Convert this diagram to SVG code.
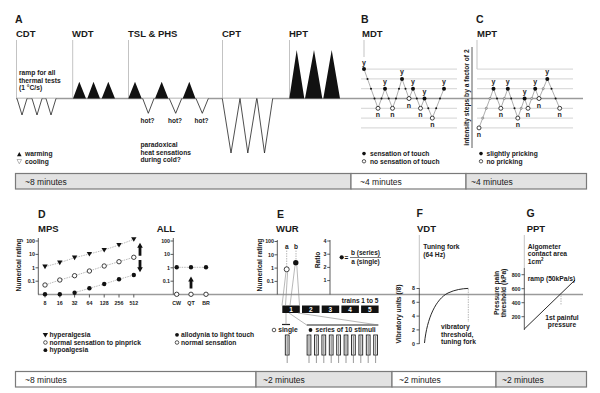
<svg xmlns="http://www.w3.org/2000/svg" width="600" height="393" viewBox="0 0 600 393">
<style>
text{font-family:"Liberation Sans",Arial,sans-serif;fill:#1a1a1a}
.L{font-size:10.5px;font-weight:bold}
.T{font-size:9.5px;font-weight:bold}
.s{font-size:6.7px;font-weight:bold}
.h{font-size:6.5px;font-weight:bold}
.k{font-size:5.3px;font-weight:bold}
.m{font-size:8.5px}
.yn{font-size:7px;font-weight:bold;text-anchor:middle}
.e{text-anchor:end}
.c{text-anchor:middle}
.vl{stroke:#b4b4b4;stroke-width:0.8;fill:none}
.base{stroke:#9a9a9a;stroke-width:1.6}
.grid{stroke:#c8c8c8;stroke-width:0.8}
.path{stroke:#777;stroke-width:0.6;fill:none}
.dash{stroke:#888;stroke-width:0.6;stroke-dasharray:1.5 1;fill:none}
.ax{stroke:#333;stroke-width:0.8;fill:none}
.bk{fill:#111}
.wv{fill:#fff;stroke:#222;stroke-width:0.8}
.bar{fill:#e2e2e2;stroke:#7a7a7a;stroke-width:1.2}
.barw{fill:#fff;stroke:#7a7a7a;stroke-width:1.2}
.thin{stroke:#888;stroke-width:0.6;fill:none}
.bx{fill:#111}
.bn{font-size:6.5px;font-weight:bold;fill:#fff;text-anchor:middle}
</style>
<defs>
<path id="tri" d="M-2.7,-2.1 L2.7,-2.1 L0,2.5Z" fill="#111"/>
<circle id="cb" r="2.2" fill="#111"/>
<circle id="cw" r="2.2" fill="#fff" stroke="#111" stroke-width="0.8"/>
<circle id="bigB" r="2" fill="#111"/>
<circle id="bigW" r="2" fill="#fff" stroke="#111" stroke-width="0.8"/>
<circle id="sb" r="1" fill="#111"/>
<circle id="sg" r="1.1" fill="#c8c8c8" stroke="#666" stroke-width="0.5"/>
<g id="pin"><rect x="-1.9" y="0" width="3.8" height="20" fill="#eee" stroke="#222" stroke-width="0.9"/><line x1="0" y1="1" x2="0" y2="19" stroke="#555" stroke-width="0.7"/><line x1="0" y1="20" x2="0" y2="28" stroke="#555" stroke-width="0.6"/></g>
</defs>
<rect width="600" height="393" fill="#fff"/>

<g id="baselines">
<line class="base" x1="16" y1="98.5" x2="583" y2="98.5"/>
<line class="base" x1="38" y1="294.5" x2="583" y2="294.5"/>
</g>

<g id="panelA"><text class="L" x="15" y="23">A</text></g>
<g id="CDT">
<text class="T" x="16" y="37">CDT</text>
<line class="vl" x1="16.5" y1="40" x2="16.5" y2="98"/>
<text class="s" x="19" y="75">ramp for all</text>
<text class="s" x="19" y="82.7">thermal tests</text>
<text class="s" x="19" y="90.4">(1 °C/s)</text>
<path class="wv" d="M17,98.5 L22,115 L27,98.5 M32,98.5 L37,115 L42,98.5 M46,98.5 L51,115 L56,98.5"/>
<path class="bk" d="M17,156.3 L19.3,152 L21.6,156.3Z"/>
<text class="s" x="25" y="155.8">warming</text>
<path d="M17,159.5 L21.6,159.5 L19.3,163.8Z" fill="#fff" stroke="#888" stroke-width="0.6"/>
<text class="s" x="25" y="163.5">cooling</text>
</g>
<g id="WDT">
<text class="T" x="72" y="37">WDT</text>
<line class="vl" x1="72.7" y1="40" x2="72.7" y2="98"/>
<path class="bk" d="M73,98.5 L79.3,81.7 L86,98.5Z M87.3,98.5 L93.5,81.7 L100,98.5Z M101.7,98.5 L108.3,81.7 L115,98.5Z"/>
</g>
<g id="TSL">
<text class="T" x="128" y="37">TSL &amp; PHS</text>
<line class="vl" x1="128.5" y1="40" x2="128.5" y2="98"/>
<path class="bk" d="M128.3,98.5 L135,81.7 L141.7,98.5Z M155,98.5 L161.7,81.7 L168.3,98.5Z M182.7,98.5 L189.3,81.7 L195.5,98.5Z"/>
<path class="wv" d="M142.7,98.5 L148.3,113.3 L154,98.5 M169.3,98.5 L175.7,113.3 L181.7,98.5 M196,98.5 L202.3,113.3 L208.3,98.5"/>
<text class="h c" x="147.5" y="123">hot?</text>
<text class="h c" x="175" y="123">hot?</text>
<text class="h c" x="201.5" y="123">hot?</text>
<text class="s" x="140.4" y="146.8">paradoxical</text>
<text class="s" x="140.4" y="154.6">heat sensations</text>
<text class="s" x="140.4" y="162.4">during cold?</text>
</g>
<g id="CPT">
<text class="T" x="222" y="37">CPT</text>
<line class="vl" x1="222.5" y1="40" x2="222.5" y2="98"/>
<path class="wv" d="M222.3,98.5 L231,153 L240,98.5 M240,98.5 L247.8,153 L256.7,98.5 M257,98.5 L264.5,153 L272.7,98.5"/>
</g>
<g id="HPT">
<text class="T" x="289" y="37">HPT</text>
<line class="vl" x1="289.5" y1="40" x2="289.5" y2="98"/>
<path class="bk" d="M289.3,98.5 L296.7,50 L304.3,98.5Z M305,98.5 L314,50 L322.3,98.5Z M323.3,98.5 L331.7,50 L340,98.5Z"/>
</g>

<g id="panelB"><text class="L" x="361" y="23">B</text></g>
<g id="MDT">
<text class="T" x="362" y="37">MDT</text>
<line class="vl" x1="364" y1="40" x2="364" y2="57"/>
<g class="grid">
<line x1="364" y1="69.1" x2="457" y2="69.1"/>
<line x1="361" y1="78.9" x2="457" y2="78.9"/>
<line x1="361" y1="88.7" x2="457" y2="88.7"/>
<line x1="361" y1="108.3" x2="457" y2="108.3"/>
<line x1="361" y1="118.1" x2="457" y2="118.1"/>
<line x1="361" y1="127.9" x2="457" y2="127.9"/>
</g>
<polyline class="path" points="364,69.1 367.5,78.9 371,88.7 374.5,98.5 378,108.3 381.5,98.5 385,88.7 388.7,98.5 392.5,108.3 396,98.5 399,88.7 402,78.9 405.5,88.7 409,98.5 413,88.7 416.8,98.5 420.5,108.3 424.5,98.5 428.3,108.3 432.3,118.1 436.2,108.3 440,98.5 444,88.7"/>
<use href="#sb" x="367.5" y="78.9"/><use href="#sb" x="371" y="88.7"/><use href="#sb" x="374.5" y="98.5"/>
<use href="#sb" x="381.5" y="98.5"/><use href="#sb" x="388.7" y="98.5"/><use href="#sb" x="396" y="98.5"/>
<use href="#sb" x="399" y="88.7"/><use href="#sb" x="405.5" y="88.7"/><use href="#sb" x="416.8" y="98.5"/>
<use href="#sb" x="428.3" y="108.3"/><use href="#sb" x="436.2" y="108.3"/><use href="#sb" x="440" y="98.5"/>
<use href="#bigB" x="364" y="69.1"/><text class="yn" x="364" y="64.6">y</text>
<use href="#bigB" x="385" y="88.7"/><text class="yn" x="385" y="84.2">y</text>
<use href="#bigB" x="402" y="78.9"/><text class="yn" x="402" y="74.4">y</text>
<use href="#bigB" x="413" y="88.7"/><text class="yn" x="413" y="84.2">y</text>
<use href="#bigB" x="424.5" y="98.5"/><text class="yn" x="424.5" y="94">y</text>
<use href="#bigB" x="444" y="88.7"/><text class="yn" x="444" y="84.2">y</text>
<use href="#bigW" x="378" y="108.3"/><text class="yn" x="378" y="117.3">n</text>
<use href="#bigW" x="392.5" y="108.3"/><text class="yn" x="392.5" y="117.3">n</text>
<use href="#bigW" x="409" y="98.5"/><text class="yn" x="409" y="107.5">n</text>
<use href="#bigW" x="420.5" y="108.3"/><text class="yn" x="420.5" y="117.3">n</text>
<use href="#bigW" x="432.3" y="118.1"/><text class="yn" x="432.3" y="127.1">n</text>
<circle cx="364" cy="153.6" r="1.8" fill="#111"/>
<text class="s" x="370" y="155.8">sensation of touch</text>
<circle cx="364" cy="161.3" r="1.7" fill="#fff" stroke="#111" stroke-width="0.7"/>
<text class="s" x="370" y="163.5">no sensation of touch</text>
</g>

<g id="intensityAxis">
<line class="ax" x1="472" y1="47" x2="472" y2="148" stroke="#777"/>
<text class="s c" transform="translate(468.5,97.5) rotate(-90)">intensity steps by a factor of 2</text>
</g>

<g id="panelC"><text class="L" x="476" y="23">C</text></g>
<g id="MPT">
<text class="T" x="477" y="37">MPT</text>
<line class="vl" x1="477" y1="40" x2="477" y2="69.1"/>
<g class="grid">
<line x1="477" y1="69.1" x2="573" y2="69.1"/>
<line x1="477" y1="78.9" x2="573" y2="78.9"/>
<line x1="477" y1="88.7" x2="573" y2="88.7"/>
<line x1="477" y1="108.3" x2="573" y2="108.3"/>
<line x1="477" y1="118.1" x2="573" y2="118.1"/>
<line x1="477" y1="127.9" x2="573" y2="127.9"/>
</g>
<polyline class="path" points="479,127.9 482.7,118.1 486.3,108.3 490,98.5 493.5,88.7 497,98.5 500.8,108.3 504.3,98.5 507.8,88.7 511.2,98.5 514.5,108.3 517.8,118.1 521.2,108.3 524.6,98.5 528,108.3 531.7,98.5 535.2,88.7 539,98.5 543.2,88.7 547.3,78.9 551.5,88.7 555.6,98.5 559.7,108.3"/>
<use href="#sg" x="482.7" y="118.1"/><use href="#sg" x="486.3" y="108.3"/><use href="#sg" x="490" y="98.5"/>
<use href="#sb" x="497" y="98.5"/><use href="#sg" x="504.3" y="98.5"/><use href="#sb" x="511.2" y="98.5"/>
<use href="#sb" x="514.5" y="108.3"/><use href="#sg" x="521.2" y="108.3"/><use href="#sg" x="531.7" y="98.5"/>
<use href="#sg" x="543.2" y="88.7"/><use href="#sb" x="551.5" y="88.7"/><use href="#sb" x="555.6" y="98.5"/>
<use href="#bigB" x="493.5" y="88.7"/><text class="yn" x="493.5" y="84.2">y</text>
<use href="#bigB" x="507.8" y="88.7"/><text class="yn" x="507.8" y="84.2">y</text>
<use href="#bigB" x="524.6" y="98.5"/><text class="yn" x="524.6" y="94">y</text>
<use href="#bigB" x="535.2" y="88.7"/><text class="yn" x="535.2" y="84.2">y</text>
<use href="#bigB" x="547.3" y="78.9"/><text class="yn" x="547.3" y="74.4">y</text>
<use href="#bigW" x="479" y="127.9"/><text class="yn" x="479" y="136.5">n</text>
<use href="#bigW" x="500.8" y="108.3"/><text class="yn" x="500.8" y="117.3">n</text>
<use href="#bigW" x="517.8" y="118.1"/><text class="yn" x="517.8" y="127.1">n</text>
<use href="#bigW" x="528" y="108.3"/><text class="yn" x="528" y="117.3">n</text>
<use href="#bigW" x="539" y="98.5"/><text class="yn" x="539" y="107.5">n</text>
<use href="#bigW" x="559.7" y="108.3"/><text class="yn" x="559.7" y="117.3">n</text>
<circle cx="481" cy="153.6" r="1.8" fill="#111"/>
<text class="s" x="486.5" y="155.8">slightly pricking</text>
<circle cx="481" cy="161.3" r="1.7" fill="#fff" stroke="#111" stroke-width="0.7"/>
<text class="s" x="486.5" y="163.5">no pricking</text>
</g>

<g id="timebar1">
<rect class="bar" x="15.5" y="173.5" width="335.5" height="15.5"/>
<rect class="barw" x="351" y="173.5" width="115" height="15.5"/>
<rect class="bar" x="466" y="173.5" width="120.5" height="15.5"/>
<text class="m" x="25" y="185">~8 minutes</text>
<text class="m" x="360" y="185">~4 minutes</text>
<text class="m" x="471" y="185">~4 minutes</text>
</g>

<g id="panelD"><text class="L" x="38" y="218">D</text></g>
<g id="MPS">
<text class="T" x="38" y="232">MPS</text>
<line class="ax" x1="38.3" y1="238" x2="38.3" y2="294.5"/>
<g class="ax"><line x1="35.5" y1="241" x2="38.3" y2="241"/><line x1="35.5" y1="254.4" x2="38.3" y2="254.4"/><line x1="35.5" y1="267.8" x2="38.3" y2="267.8"/><line x1="35.5" y1="281.2" x2="38.3" y2="281.2"/></g>
<text class="k e" x="35" y="242.8">100</text><text class="k e" x="35" y="256.2">10</text><text class="k e" x="35" y="269.6">1</text><text class="k e" x="35" y="283">0.1</text>
<text class="s c" transform="translate(20.5,265) rotate(-90)">Numerical rating</text>
<g class="ax"><line x1="45" y1="294.5" x2="45" y2="297.5"/><line x1="59.8" y1="294.5" x2="59.8" y2="297.5"/><line x1="74.6" y1="294.5" x2="74.6" y2="297.5"/><line x1="89.4" y1="294.5" x2="89.4" y2="297.5"/><line x1="104.2" y1="294.5" x2="104.2" y2="297.5"/><line x1="119" y1="294.5" x2="119" y2="297.5"/><line x1="133.8" y1="294.5" x2="133.8" y2="297.5"/></g>
<text class="k c" x="45" y="304.5">8</text><text class="k c" x="59.8" y="304.5">16</text><text class="k c" x="74.6" y="304.5">32</text><text class="k c" x="89.4" y="304.5">64</text><text class="k c" x="104.2" y="304.5">128</text><text class="k c" x="119" y="304.5">256</text><text class="k c" x="133.8" y="304.5">512</text>
<polyline class="dash" points="45,266.7 59.8,262.7 74.6,257.7 89.4,254 104.2,250 119,245 133.8,239.3"/>
<polyline class="dash" points="45,285 59.8,280 74.6,275.7 89.4,271 104.2,266 119,261.7 133.8,257.3"/>
<polyline class="dash" points="74.6,292.7 89.4,288.3 104.2,284 119,279.3 133.8,275"/>
<use href="#tri" x="45" y="266.7"/><use href="#tri" x="59.8" y="262.7"/><use href="#tri" x="74.6" y="257.7"/><use href="#tri" x="89.4" y="254"/><use href="#tri" x="104.2" y="250"/><use href="#tri" x="119" y="245"/><use href="#tri" x="133.8" y="239.3"/>
<use href="#cw" x="45" y="285"/><use href="#cw" x="59.8" y="280"/><use href="#cw" x="74.6" y="275.7"/><use href="#cw" x="89.4" y="271"/><use href="#cw" x="104.2" y="266"/><use href="#cw" x="119" y="261.7"/><use href="#cw" x="133.8" y="257.3"/>
<use href="#cb" x="45" y="294.3"/><use href="#cb" x="59.8" y="294.3"/><use href="#cb" x="74.6" y="292.7"/><use href="#cb" x="89.4" y="288.3"/><use href="#cb" x="104.2" y="284"/><use href="#cb" x="119" y="279.3"/><use href="#cb" x="133.8" y="275"/>
<path class="bk" d="M140,242.7 L142.8,247.7 L141.4,247.7 L141.4,255.7 L138.6,255.7 L138.6,247.7 L137.2,247.7Z"/>
<path class="bk" d="M140,272.3 L142.8,267.3 L141.4,267.3 L141.4,260 L138.6,260 L138.6,267.3 L137.2,267.3Z"/>
<path class="bk" d="M42.7,333 L48,333 L45.35,337.4Z"/>
<text class="s" x="49.5" y="337">hyperalgesia</text>
<circle cx="45.4" cy="342.5" r="1.8" fill="#fff" stroke="#111" stroke-width="0.7"/>
<text class="s" x="49.5" y="344.7">normal sensation to pinprick</text>
<circle cx="45.4" cy="350.2" r="1.9" fill="#111"/>
<text class="s" x="49.5" y="352.4">hypoalgesia</text>
</g>
<g id="ALL">
<text class="T" x="156.7" y="232">ALL</text>
<line class="ax" x1="173.3" y1="238" x2="173.3" y2="294.5"/>
<g class="ax"><line x1="170.5" y1="241" x2="173.3" y2="241"/><line x1="170.5" y1="254.4" x2="173.3" y2="254.4"/><line x1="170.5" y1="267.8" x2="173.3" y2="267.8"/><line x1="170.5" y1="281.2" x2="173.3" y2="281.2"/></g>
<text class="k e" x="170" y="242.8">100</text><text class="k e" x="170" y="256.2">10</text><text class="k e" x="170" y="269.6">1</text><text class="k e" x="170" y="283">0.1</text>
<polyline class="dash" points="176.7,267.3 206,267.3"/>
<use href="#cb" x="176.7" y="267.3"/><use href="#cb" x="191" y="267.3"/><use href="#cb" x="206" y="267.3"/>
<use href="#cw" x="176.7" y="294.3"/><use href="#cw" x="191" y="294.3"/><use href="#cw" x="206" y="294.3"/>
<text class="k c" x="176.7" y="304.5">CW</text><text class="k c" x="191" y="304.5">QT</text><text class="k c" x="206" y="304.5">BR</text>
<path class="bk" d="M191,276.5 L193.8,281.5 L192.4,281.5 L192.4,288.5 L189.6,288.5 L189.6,281.5 L188.2,281.5Z"/>
<circle cx="177" cy="334.8" r="1.9" fill="#111"/>
<text class="s" x="181" y="337">allodynia to light touch</text>
<circle cx="177" cy="342.5" r="1.8" fill="#fff" stroke="#111" stroke-width="0.7"/>
<text class="s" x="181" y="344.7">normal sensation</text>
</g>

<g id="panelE"><text class="L" x="277" y="218">E</text></g>
<g id="WUR">
<text class="T" x="276" y="232.3">WUR</text>
<line class="ax" x1="277.3" y1="240" x2="277.3" y2="294.5"/>
<g class="ax"><line x1="274.5" y1="241.5" x2="277.3" y2="241.5"/><line x1="274.5" y1="254.8" x2="277.3" y2="254.8"/><line x1="274.5" y1="268.1" x2="277.3" y2="268.1"/><line x1="274.5" y1="281.4" x2="277.3" y2="281.4"/></g>
<text class="k e" x="274" y="243.3">100</text><text class="k e" x="274" y="256.6">10</text><text class="k e" x="274" y="269.9">1</text><text class="k e" x="274" y="283.2">0.1</text>
<text class="s c" transform="translate(262,265) rotate(-90)">Numerical rating</text>
<text class="h c" x="286.7" y="248.7">a</text>
<text class="h c" x="296" y="248.7">b</text>
<line class="dash" x1="286.7" y1="250.5" x2="286.7" y2="267"/>
<line class="dash" x1="296" y1="250.5" x2="296" y2="260.5"/>
<circle cx="286.7" cy="269.3" r="2.5" fill="#fff" stroke="#111" stroke-width="0.8"/>
<circle cx="295.8" cy="262.7" r="2.7" fill="#111"/>
</g>
<g id="Ratio">
<line class="ax" x1="330" y1="240" x2="330" y2="294.5"/>
<g class="ax"><line x1="327.2" y1="241" x2="330" y2="241"/><line x1="327.2" y1="254.2" x2="330" y2="254.2"/><line x1="327.2" y1="267.4" x2="330" y2="267.4"/><line x1="327.2" y1="280.6" x2="330" y2="280.6"/></g>
<text class="k e" x="326.5" y="242.8">4</text><text class="k e" x="326.5" y="256">3</text><text class="k e" x="326.5" y="269.2">2</text><text class="k e" x="326.5" y="282.4">1</text>
<text class="s c" transform="translate(320,260) rotate(-90)">Ratio</text>
<circle cx="341.7" cy="257.3" r="2.1" fill="#111"/>
<text class="h" x="344.5" y="259.5">=</text>
<text class="h c" x="365.5" y="255.3">b (series)</text>
<line x1="350" y1="257.5" x2="381" y2="257.5" stroke="#222" stroke-width="0.6"/>
<text class="h c" x="365.5" y="263.8">a (single)</text>
</g>
<g id="trains">
<text class="h e" x="378.3" y="303.3">trains 1 to 5</text>
<rect class="bx" x="282.3" y="305.5" width="17.5" height="7.5"/>
<rect class="bx" x="302" y="305.5" width="17.5" height="7.5"/>
<rect class="bx" x="321.7" y="305.5" width="17.5" height="7.5"/>
<rect class="bx" x="341.4" y="305.5" width="17.5" height="7.5"/>
<rect class="bx" x="361.1" y="305.5" width="17.5" height="7.5"/>
<text class="bn" x="291" y="311.6">1</text>
<text class="bn" x="310.7" y="311.6">2</text>
<text class="bn" x="330.4" y="311.6">3</text>
<text class="bn" x="350.1" y="311.6">4</text>
<text class="bn" x="369.8" y="311.6">5</text>
</g>
<g id="single">
<line x1="282" y1="324.5" x2="290" y2="324.5" stroke="#222" stroke-width="1.2"/>
<circle cx="274" cy="330" r="1.8" fill="#fff" stroke="#111" stroke-width="0.7"/>
<text class="s" x="278.3" y="332.3">single</text>
<use href="#pin" x="287.2" y="335"/>
</g>
<g id="series">
<line x1="306.7" y1="325" x2="378.3" y2="325" stroke="#222" stroke-width="1.2"/>
<circle cx="310.5" cy="330" r="1.9" fill="#111"/>
<text class="s" x="315.5" y="332.3">series of 10 stimuli</text>
<use href="#pin" x="309" y="335"/><use href="#pin" x="316.4" y="335"/><use href="#pin" x="323.8" y="335"/><use href="#pin" x="331.2" y="335"/><use href="#pin" x="338.6" y="335"/><use href="#pin" x="346" y="335"/><use href="#pin" x="353.4" y="335"/><use href="#pin" x="360.8" y="335"/><use href="#pin" x="368.2" y="335"/><use href="#pin" x="375.6" y="335"/>
</g>

<g id="connectors">
<line class="thin" x1="286" y1="271.8" x2="282" y2="305.5"/>
<line class="thin" x1="287.6" y1="271.8" x2="285.5" y2="305.5"/>
<line class="thin" x1="295" y1="265.4" x2="290" y2="305.5"/>
<line class="thin" x1="296.8" y1="265.4" x2="299.5" y2="305.5"/>
<line class="thin" x1="286" y1="313" x2="286" y2="324.5"/>
<line class="thin" x1="289" y1="313" x2="306.7" y2="325"/>
<line class="thin" x1="298" y1="313" x2="378.3" y2="325"/>
</g>

<g id="panelF"><text class="L" x="416.5" y="217">F</text></g>
<g id="VDT">
<text class="T" x="417" y="232">VDT</text>
<line class="vl" x1="419.3" y1="235" x2="419.3" y2="288"/>
<line class="ax" x1="419.3" y1="288" x2="419.3" y2="344"/>
<g class="ax"><line x1="416.5" y1="288.5" x2="419.3" y2="288.5"/><line x1="416.5" y1="302.3" x2="419.3" y2="302.3"/><line x1="416.5" y1="316.1" x2="419.3" y2="316.1"/><line x1="416.5" y1="329.9" x2="419.3" y2="329.9"/><line x1="416.5" y1="343.7" x2="419.3" y2="343.7"/></g>
<text class="k e" x="415" y="290.3">8</text><text class="k e" x="415" y="304.1">6</text><text class="k e" x="415" y="317.9">4</text><text class="k e" x="415" y="331.7">2</text><text class="k e" x="415" y="345.5">0</text>
<text class="s c" transform="translate(401,314) rotate(-90)">Vibratory units  (/8)</text>
<text class="s" x="423.3" y="248.5">Tuning fork</text>
<text class="s" x="423.3" y="256.5">(64 Hz)</text>
<path d="M424.5,343 C427,318 436,299 448,293 C455,289.7 462,288.6 468.3,288.4" fill="none" stroke="#111" stroke-width="0.9"/>
<line class="dash" x1="468.3" y1="289" x2="468.3" y2="322"/>
<text class="s" x="441" y="329">vibratory</text>
<text class="s" x="441" y="336.7">threshold,</text>
<text class="s" x="441" y="344.4">tuning fork</text>
</g>

<g id="panelG"><text class="L" x="526.5" y="217">G</text></g>
<g id="PPT">
<text class="T" x="526.7" y="232">PPT</text>
<line class="vl" x1="524.3" y1="235" x2="524.3" y2="268"/>
<line class="ax" x1="524.3" y1="268" x2="524.3" y2="330"/>
<g class="ax"><line x1="521.5" y1="274.7" x2="524.3" y2="274.7"/><line x1="521.5" y1="288.7" x2="524.3" y2="288.7"/><line x1="521.5" y1="302.7" x2="524.3" y2="302.7"/><line x1="521.5" y1="316.7" x2="524.3" y2="316.7"/></g>
<text class="k e" x="520.5" y="276.5">800</text><text class="k e" x="520.5" y="290.5">600</text><text class="k e" x="520.5" y="304.5">400</text><text class="k e" x="520.5" y="318.5">200</text>
<text class="s c" transform="translate(498.5,293) rotate(-90)">Pressure pain</text>
<text class="s c" transform="translate(506,293) rotate(-90)">threshold (kPa)</text>
<text class="s" x="527.7" y="248.5">Algometer</text>
<text class="s" x="527.7" y="256.3">contact area</text>
<text class="s" x="527.7" y="264.1">1cm<tspan font-size="4.5px" dy="-3">2</tspan></text>
<text class="s" x="527.7" y="280.5">ramp (50kPa/s)</text>
<line x1="524.3" y1="329" x2="575" y2="280" stroke="#111" stroke-width="0.9"/>
<line class="dash" x1="561" y1="293" x2="561" y2="305"/>
<text class="s c" x="562" y="319.5">1st painful</text>
<text class="s c" x="562" y="327.2">pressure</text>
</g>

<g id="timebar2">
<rect class="barw" x="15.5" y="371.5" width="240.5" height="15.5"/>
<rect class="bar" x="256" y="371.5" width="136" height="15.5"/>
<rect class="barw" x="392" y="371.5" width="104" height="15.5"/>
<rect class="bar" x="496" y="371.5" width="90.5" height="15.5"/>
<text class="m" x="25" y="383">~8 minutes</text>
<text class="m" x="263" y="383">~2 minutes</text>
<text class="m" x="399" y="383">~2 minutes</text>
<text class="m" x="502" y="383">~2 minutes</text>
</g>
</svg>
